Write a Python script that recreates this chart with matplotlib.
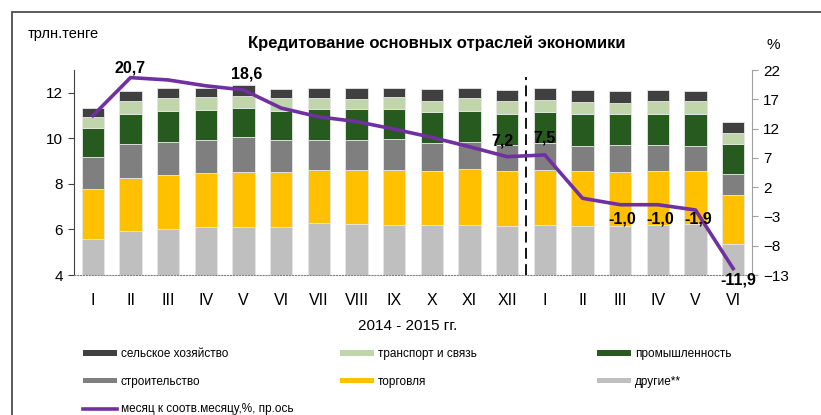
import numpy as np
import matplotlib
matplotlib.use('Agg')
import matplotlib.pyplot as plt
from matplotlib.patches import Patch, Rectangle
from matplotlib.lines import Line2D

plt.rcParams['font.family'] = ['Liberation Sans', 'DejaVu Sans']

# months 2014 - 2015
months = ['I', 'II', 'III', 'IV', 'V', 'VI', 'VII', 'VIII', 'IX', 'X', 'XI', 'XII',
          'I', 'II', 'III', 'IV', 'V', 'VI']

# stacked segments, trln tenge (bottom -> top)
drugie = [5.58, 5.93, 6.04, 6.10, 6.12, 6.11, 6.27, 6.23, 6.21, 6.20, 6.20, 6.15,
          6.18, 6.17, 6.15, 6.20, 6.25, 5.36]
torgovlya = [2.20, 2.32, 2.34, 2.37, 2.39, 2.42, 2.33, 2.37, 2.41, 2.38, 2.46, 2.43,
             2.44, 2.39, 2.38, 2.36, 2.31, 2.17]
stroitelstvo = [1.41, 1.48, 1.47, 1.46, 1.53, 1.39, 1.33, 1.33, 1.34, 1.21, 1.20, 1.13,
                1.18, 1.11, 1.17, 1.15, 1.11, 0.90]
promyshl = [1.26, 1.36, 1.33, 1.32, 1.30, 1.30, 1.34, 1.34, 1.34, 1.36, 1.36, 1.38,
            1.36, 1.38, 1.35, 1.38, 1.38, 1.30]
transport = [0.50, 0.56, 0.57, 0.57, 0.54, 0.53, 0.50, 0.47, 0.51, 0.51, 0.53, 0.54,
             0.53, 0.55, 0.52, 0.54, 0.57, 0.51]
selskoe = [0.38, 0.45, 0.44, 0.41, 0.44, 0.41, 0.42, 0.45, 0.42, 0.50, 0.47, 0.50,
           0.50, 0.50, 0.50, 0.50, 0.48, 0.49]

# growth, month to same month of previous year, %
growth = [14.2, 20.7, 20.3, 19.3, 18.6, 15.5, 14.0, 13.2, 11.9, 10.5, 8.9, 7.2,
          7.5, 0.1, -1.0, -1.0, -1.9, -11.9]

series = [('другие**', drugie, '#bfbfbf'),
          ('торговля', torgovlya, '#ffc000'),
          ('строительство', stroitelstvo, '#7f7f7f'),
          ('промышленность', promyshl, '#275a1e'),
          ('транспорт и связь', transport, '#c0d5aa'),
          ('сельское хозяйство', selskoe, '#404040')]
purple = '#7030a0'

fig = plt.figure(figsize=(8.21, 4.15), dpi=100)
ax = fig.add_axes([74/821, 140/415, 678/821, 205/415])
x = np.arange(len(months))

bottom = np.zeros(len(months))
for name, vals, col in series:
    ax.bar(x, vals, 0.6, bottom=bottom, color=col, edgecolor='#e6e6e6', linewidth=0.6, zorder=2)
    bottom = bottom + np.array(vals)

ax.set_xlim(-0.5, len(months) - 0.5)
ax.set_ylim(4, 13)
ax.set_yticks([4, 6, 8, 10, 12])
ax.set_xticks(x)
ax.set_xticklabels(months, fontsize=11.5)
ax.tick_params(axis='x', length=0, pad=13)
ax.tick_params(axis='y', direction='out', length=4, labelsize=11, color='#404040', pad=4)
ax.spines['top'].set_visible(False)
ax.spines['right'].set_visible(False)
ax.spines['left'].set_color('#404040')
ax.spines['bottom'].set_linestyle(':')
ax.spines['bottom'].set_color('#808080')
ax.plot([11.5, 11.5], [4, 12.7], color='black', lw=1.3, ls=(0, (6, 3)), zorder=3)

ax2 = ax.twinx()
ax2.set_ylim(-13, 22)
ax2.set_yticks(np.arange(-13, 23, 5))
ax2.tick_params(axis='y', direction='out', length=4, labelsize=11, color='#a0a0a0', pad=4)
for s in ['top', 'left', 'bottom']:
    ax2.spines[s].set_visible(False)
ax2.spines['right'].set_color('#a0a0a0')
ax2.plot(x, growth, color=purple, lw=2.6, solid_joinstyle='round', zorder=4)

# data labels (index, dx, dy in points)
lab = [(1, 0, 7), (4, 2, 11.5), (11, -3.5, 11.5), (12, 0, 12.5),
       (14, 1.5, -10), (15, 2, -10), (16, 2, -6.5), (17, 3.5, -8.5)]
for i, dx, dy in lab:
    ax2.annotate(('%.1f' % growth[i]).replace('.', ','), (x[i], growth[i]),
                 xytext=(dx, dy), textcoords='offset points', ha='center', va='center',
                 fontsize=11.5, fontweight='bold', zorder=5)

fig.text(437/821, 1 - 43/415, 'Кредитование основных отраслей экономики',
         ha='center', va='center', fontsize=12, fontweight='bold')
fig.text(28/821, 1 - 34/415, 'трлн.тенге', ha='left', va='center', fontsize=10.5)
fig.text(773/821, 1 - 45/415, '%', ha='center', va='center', fontsize=11)
fig.text(408/821, 1 - 326/415, '2014 - 2015 гг.', ha='center', va='center', fontsize=11)

# outer frame
fig.add_artist(Rectangle((12/821, -0.1), 1.2, 1.1 - 12/415, transform=fig.transFigure,
                         fill=False, edgecolor='#404040', lw=1.2))

# legend in three columns
hd = {name: Patch(facecolor=col, edgecolor='none') for name, vals, col in series}
line_h = Line2D([], [], color=purple, lw=2.6)
cols = [(83, [hd['сельское хозяйство'], hd['строительство'], line_h],
         ['сельское хозяйство', 'строительство', 'месяц к соотв.месяцу,%, пр.ось']),
        (340, [hd['транспорт и связь'], hd['торговля']], ['транспорт и связь', 'торговля']),
        (597, [hd['промышленность'], hd['другие**']], ['промышленность', 'другие**'])]
for px, h, l in cols:
    fig.legend(h, l, loc='upper left', bbox_to_anchor=(px/821, 1 - 348/415),
               bbox_transform=fig.transFigure, frameon=False, fontsize=8.5,
               handlelength=2.9, handleheight=0.4, handletextpad=0.3,
               labelspacing=1.33, borderpad=0, borderaxespad=0)

fig.savefig('out.png', dpi=100)
